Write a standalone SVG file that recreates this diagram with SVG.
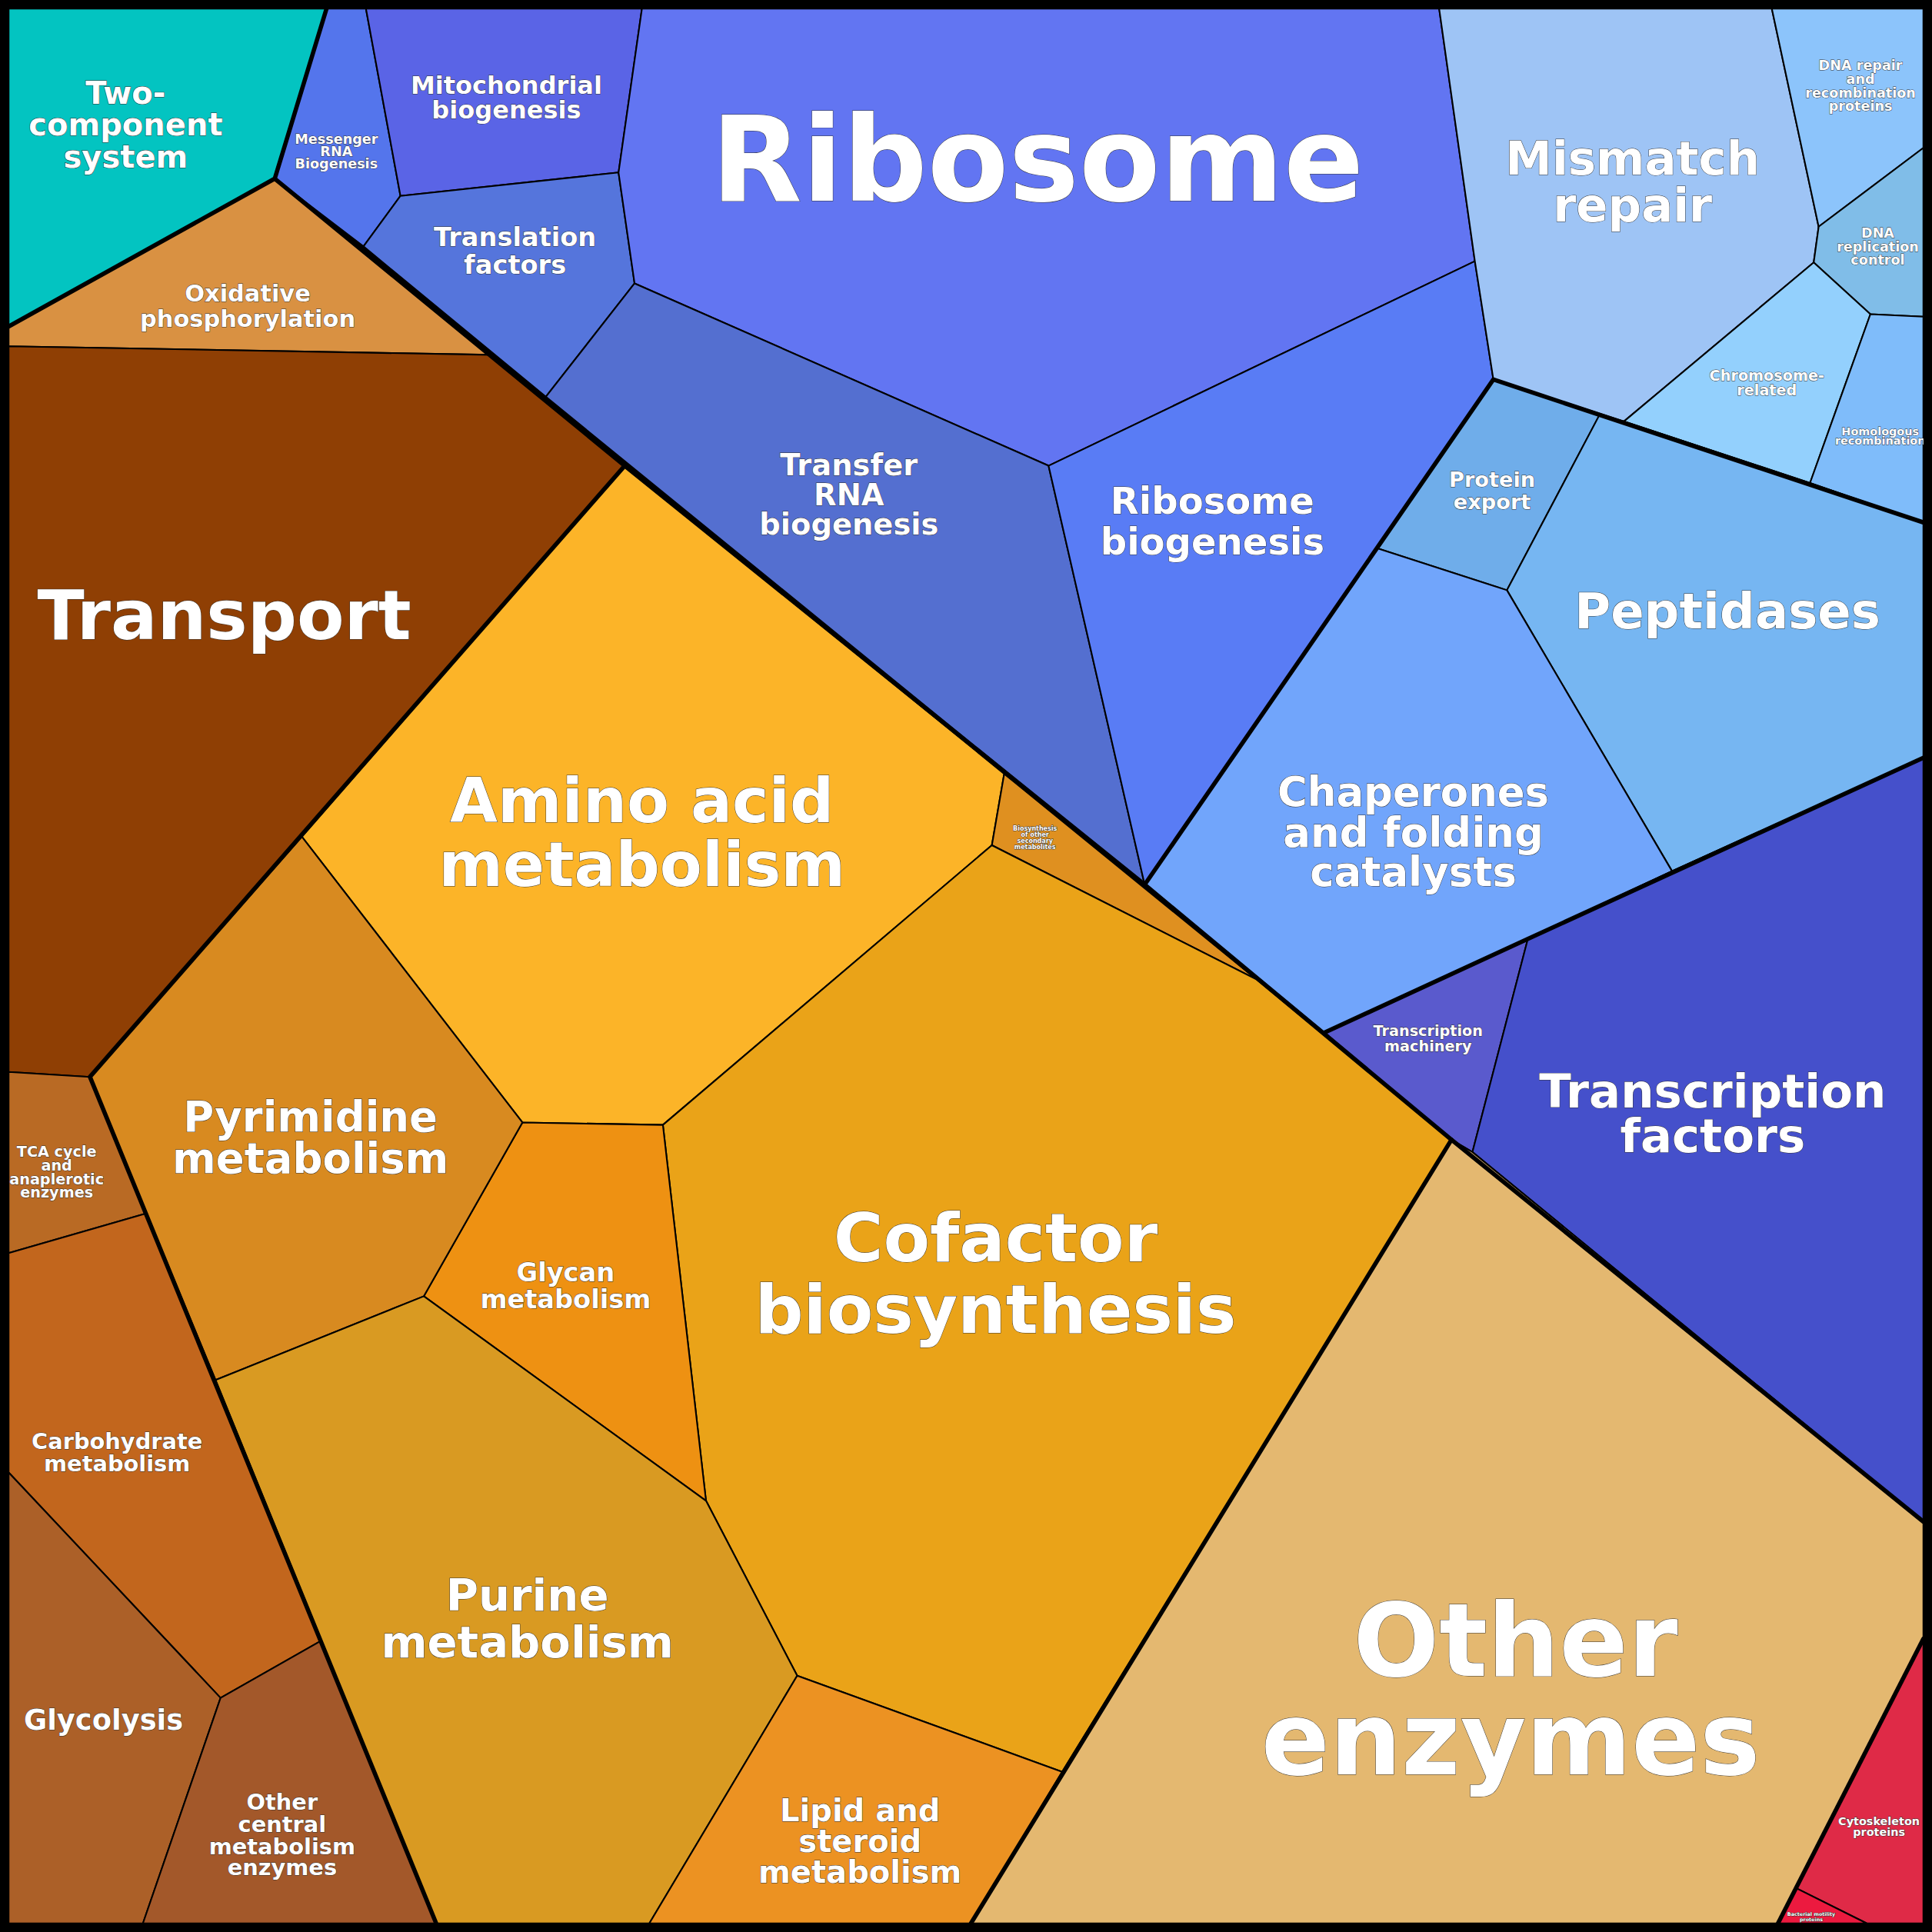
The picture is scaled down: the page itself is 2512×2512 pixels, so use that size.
<svg xmlns="http://www.w3.org/2000/svg" width="2512" height="2512" viewBox="0 0 2512 2512">
<style>
.c{stroke:#000;stroke-width:1.3;stroke-linejoin:round}
.b{fill:none;stroke:#000;stroke-width:3.5;stroke-linejoin:round;stroke-linecap:round}
text{font-family:"DejaVu Sans","Liberation Sans",sans-serif;font-weight:bold;fill:#fff;text-anchor:middle;stroke:#333;stroke-width:0.6;paint-order:stroke}
</style>
<rect width="2512" height="2512" fill="#000"/>
<g transform="scale(1.60204)">
<g id="two-component"><polygon class="c" fill="#03c4c1" points="7,7 265,7 223,145 7,265"/><text font-size="25"><tspan x="102" y="84">Two-</tspan><tspan x="102" y="110">component</tspan><tspan x="102" y="136">system</tspan></text></g>
<g id="oxidative"><polygon class="c" fill="#d99142" points="7,265 223,145 398,288 7,281"/><text font-size="19"><tspan x="201" y="245">Oxidative</tspan><tspan x="201" y="265">phosphorylation</tspan></text></g>
<g id="transport"><polygon class="c" fill="#8f3f04" points="7,281 398,288 507,378 245,679 73,874 7,870"/><text font-size="56" x="182" y="519">Transport</text></g>
<g id="messenger"><polygon class="c" fill="#5475ec" points="265,7 297,7 325,159 295,200 223,145"/><text font-size="11"><tspan x="273" y="117">Messenger</tspan><tspan x="273" y="127">RNA</tspan><tspan x="273" y="137">Biogenesis</tspan></text></g>
<g id="mitochondrial"><polygon class="c" fill="#5a64e6" points="297,7 521,7 502,140 325,159"/><text font-size="20"><tspan x="411" y="76">Mitochondrial</tspan><tspan x="411" y="96">biogenesis</tspan></text></g>
<g id="translation-factors"><polygon class="c" fill="#5575dc" points="325,159 502,140 515,230 443,322 295,200"/><text font-size="21"><tspan x="418" y="200">Translation</tspan><tspan x="418" y="222">factors</tspan></text></g>
<g id="ribosome"><polygon class="c" fill="#6275f2" points="521,7 1168,7 1197,212 851,378 515,230 502,140"/><text font-size="96" x="842" y="163">Ribosome</text></g>
<g id="trna"><polygon class="c" fill="#546fd0" points="443,322 515,230 851,378 929,718"/><text font-size="24"><tspan x="689" y="386">Transfer</tspan><tspan x="689" y="410">RNA</tspan><tspan x="689" y="434">biogenesis</tspan></text></g>
<g id="ribosome-biogenesis"><polygon class="c" fill="#597cf5" points="851,378 1197,212 1212,308 929,718"/><text font-size="30"><tspan x="984" y="417">Ribosome</tspan><tspan x="984" y="450">biogenesis</tspan></text></g>
<g id="mismatch"><polygon class="c" fill="#9ec4f5" points="1168,7 1438,7 1476,184 1472,213 1318,342 1212,308 1197,212"/><text font-size="38"><tspan x="1325" y="142">Mismatch</tspan><tspan x="1325" y="180">repair</tspan></text></g>
<g id="dna-repair"><polygon class="c" fill="#8cc4fb" points="1438,7 1561,7 1561,120 1476,184"/><text font-size="11"><tspan x="1510" y="57">DNA repair</tspan><tspan x="1510" y="68">and</tspan><tspan x="1510" y="79">recombination</tspan><tspan x="1510" y="90">proteins</tspan></text></g>
<g id="dna-replication"><polygon class="c" fill="#80bde8" points="1476,184 1561,120 1561,257 1518,255 1472,213"/><text font-size="11"><tspan x="1524" y="193">DNA</tspan><tspan x="1524" y="204">replication</tspan><tspan x="1524" y="215">control</tspan></text></g>
<g id="chromosome"><polygon class="c" fill="#93d0fd" points="1318,342 1472,213 1518,255 1469,392"/><text font-size="12"><tspan x="1434" y="309">Chromosome-</tspan><tspan x="1434" y="321">related</tspan></text></g>
<g id="homologous"><polygon class="c" fill="#7fbcfa" points="1518,255 1561,257 1561,424 1469,392"/><text font-size="9"><tspan x="1526" y="353">Homologous</tspan><tspan x="1526" y="361">recombination</tspan></text></g>
<g id="protein-export"><polygon class="c" fill="#6fadea" points="1212,308 1298,337 1223,479 1118,445"/><text font-size="17"><tspan x="1211" y="395">Protein</tspan><tspan x="1211" y="413">export</tspan></text></g>
<g id="peptidases"><polygon class="c" fill="#76b6f2" points="1298,337 1318,342 1469,392 1561,424 1561,615 1357,707 1223,479"/><text font-size="40" x="1402" y="510">Peptidases</text></g>
<g id="chaperones"><polygon class="c" fill="#71a5fb" points="929,718 1118,445 1223,479 1357,707 1240,762 1075,838"/><text font-size="33"><tspan x="1147" y="654">Chaperones</tspan><tspan x="1147" y="687">and folding</tspan><tspan x="1147" y="719">catalysts</tspan></text></g>
<g id="transcription-machinery"><polygon class="c" fill="#5a5acd" points="1075,838 1240,762 1195,935 1178,925"/><text font-size="12"><tspan x="1159" y="841">Transcription</tspan><tspan x="1159" y="853">machinery</tspan></text></g>
<g id="transcription-factors"><polygon class="c" fill="#4550cb" points="1240,762 1357,707 1561,615 1561,1235 1195,935"/><text font-size="38"><tspan x="1390" y="899">Transcription</tspan><tspan x="1390" y="935">factors</tspan></text></g>
<g id="other-enzymes"><polygon class="c" fill="#e4b870" points="1178,925 1195,935 1561,1235 1561,1330 1443,1561 788,1561 862,1438"/><text font-size="82"><tspan x="1230" y="1360">Other</tspan><tspan x="1226" y="1440">enzymes</tspan></text></g>
<g id="cytoskeleton"><polygon class="c" fill="#df2a47" points="1561,1330 1561,1561 1515,1561 1457,1532"/><text font-size="9"><tspan x="1525" y="1481">Cytoskeleton</tspan><tspan x="1525" y="1490">proteins</tspan></text></g>
<g id="bacterial-motility"><polygon class="c" fill="#ec1a3f" points="1457,1532 1515,1561 1443,1561"/><text font-size="4" stroke-width="0.2"><tspan x="1470" y="1555">Bacterial motility</tspan><tspan x="1470" y="1559">proteins</tspan></text></g>
<g id="amino-acid"><polygon class="c" fill="#fcb428" points="507,378 815,628 805,686 538,913 424,911 245,679"/><text font-size="50"><tspan x="521" y="667">Amino acid</tspan><tspan x="521" y="719">metabolism</tspan></text></g>
<g id="secondary"><polygon class="c" fill="#df9020" points="815,628 1020,795 805,686"/><text font-size="5" stroke-width="0.2"><tspan x="840" y="674">Biosynthesis</tspan><tspan x="840" y="679">of other</tspan><tspan x="840" y="684">secondary</tspan><tspan x="840" y="689">metabolites</tspan></text></g>
<g id="cofactor"><polygon class="c" fill="#eaa318" points="805,686 1020,795 1178,925 862,1438 647,1360 573,1218 538,913"/><text font-size="55"><tspan x="808" y="1024">Cofactor</tspan><tspan x="808" y="1082">biosynthesis</tspan></text></g>
<g id="glycan"><polygon class="c" fill="#ee9112" points="424,911 538,913 573,1218 344,1052"/><text font-size="21"><tspan x="459" y="1040">Glycan</tspan><tspan x="459" y="1062">metabolism</tspan></text></g>
<g id="pyrimidine"><polygon class="c" fill="#d88a20" points="73,874 245,679 424,911 344,1052 175,1120"/><text font-size="34"><tspan x="252" y="918">Pyrimidine</tspan><tspan x="252" y="952">metabolism</tspan></text></g>
<g id="purine"><polygon class="c" fill="#d99a22" points="175,1120 344,1052 573,1218 647,1360 527,1561 354,1561"/><text font-size="36"><tspan x="428" y="1307">Purine</tspan><tspan x="428" y="1345">metabolism</tspan></text></g>
<g id="lipid"><polygon class="c" fill="#ec9222" points="647,1360 862,1438 788,1561 527,1561"/><text font-size="25"><tspan x="698" y="1478">Lipid and</tspan><tspan x="698" y="1503">steroid</tspan><tspan x="698" y="1528">metabolism</tspan></text></g>
<g id="tca"><polygon class="c" fill="#b96a24" points="7,870 73,874 118,985 7,1017"/><text font-size="12"><tspan x="46" y="939">TCA cycle</tspan><tspan x="46" y="950">and</tspan><tspan x="46" y="961">anaplerotic</tspan><tspan x="46" y="972">enzymes</tspan></text></g>
<g id="carbohydrate"><polygon class="c" fill="#c2661d" points="7,1017 118,985 260,1332 179,1378 7,1195"/><text font-size="18"><tspan x="95" y="1176">Carbohydrate</tspan><tspan x="95" y="1194">metabolism</tspan></text></g>
<g id="glycolysis"><polygon class="c" fill="#ac6028" points="7,1195 179,1378 116,1561 7,1561"/><text font-size="23" x="84" y="1404">Glycolysis</text></g>
<g id="other-central"><polygon class="c" fill="#a3582a" points="179,1378 260,1332 354,1561 116,1561"/><text font-size="18"><tspan x="229" y="1469">Other</tspan><tspan x="229" y="1487">central</tspan><tspan x="229" y="1505">metabolism</tspan><tspan x="229" y="1522">enzymes</tspan></text></g>
<g id="connectors">
<polyline class="b" points="265,7 223,145 7,265"/>
<polyline class="b" points="223,145 507,378 929,718 1178,925 1561,1235"/>
<polyline class="b" points="507,378 73,874 354,1561"/>
<polyline class="b" points="1178,925 788,1561"/>
<polyline class="b" points="1561,1330 1443,1561"/>
<polyline class="b" points="929,718 1212,308 1561,424"/>
<polyline class="b" points="1075,838 1240,762 1561,615"/>
<rect x="3.5" y="3.5" width="1561" height="1561" fill="none" stroke="#000" stroke-width="7"/>
</g>
</g>
</svg>
